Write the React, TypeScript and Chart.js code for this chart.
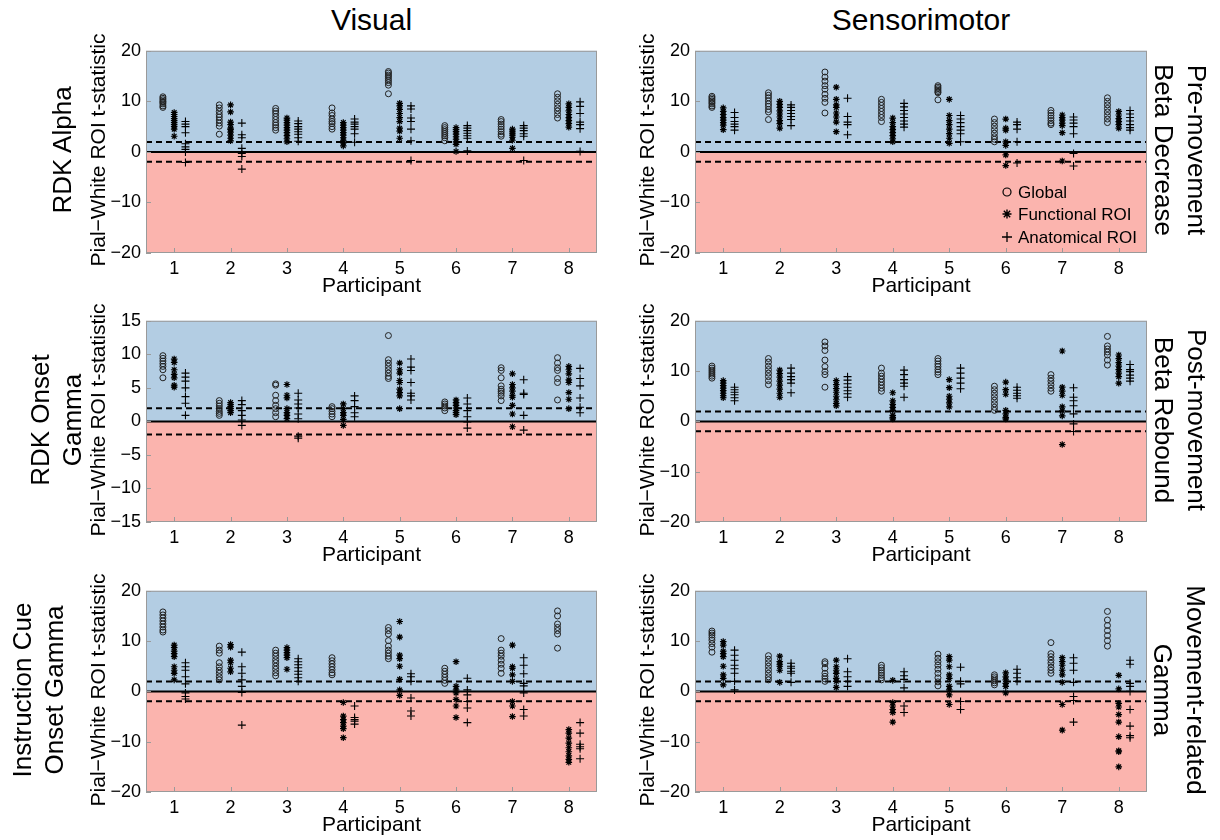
import React, { useEffect, useRef } from 'react';
import { Chart, registerables } from 'chart.js';

Chart.register(...registerables);
Chart.defaults.font.family = '"Liberation Sans", Arial, sans-serif';

const participants = [1, 2, 3, 4, 5, 6, 7, 8];
const columnTitles = ['Visual', 'Sensorimotor'];
const legendLabels = ['Global', 'Functional ROI', 'Anatomical ROI'];
const yAxisTitle = 'Pial\u2212White ROI t-statistic';
const xAxisTitle = 'Participant';

// ---- RDK Alpha (Visual) ----
const rdkAlphaGlobal = [
  [10.9, 10.6, 10.3, 10.0, 9.8, 9.5, 9.1, 8.8],
  [9.3, 8.7, 8.0, 7.4, 6.9, 6.3, 5.7, 5.1, 3.5],
  [8.6, 8.1, 7.6, 7.0, 6.4, 5.8, 5.3, 4.8, 4.3],
  [8.7, 7.7, 7.2, 6.5, 6.0, 5.6, 5.0, 4.5],
  [15.9, 15.6, 15.2, 14.9, 14.5, 14.1, 13.7, 13.2, 11.5],
  [5.2, 4.8, 4.4, 4.0, 3.6, 3.2, 2.8, 2.2],
  [6.4, 6.0, 5.5, 5.0, 4.5, 4.0, 3.5, 3.1],
  [11.5, 10.8, 10.1, 9.4, 8.7, 8.1, 7.4, 6.7],
];
const rdkAlphaFunctional = [
  [7.8, 7.4, 7.0, 6.6, 6.2, 5.8, 5.4, 5.0, 4.5, 3.1],
  [9.3, 7.9, 5.9, 5.4, 4.7, 4.4, 3.9, 3.3, 2.7, 2.2],
  [6.7, 6.3, 5.8, 5.3, 4.8, 4.3, 3.8, 3.2, 2.6, 2.0],
  [5.8, 5.3, 4.8, 4.3, 3.8, 3.3, 2.8, 2.3, 1.8, 1.2],
  [9.6, 9.1, 8.4, 7.6, 6.8, 6.0, 4.7, 4.1, 2.7],
  [4.8, 4.4, 4.0, 3.5, 3.0, 2.5, 2.0, 1.5, 0.1],
  [4.5, 4.1, 3.7, 3.3, 2.9, 2.3, 0.7],
  [9.5, 8.8, 8.1, 7.4, 6.8, 6.2, 5.6, 4.9],
];
const rdkAlphaAnatomical = [
  [6.0, 5.5, 5.0, 3.8, 1.6, 1.0, 0.5, 0.0, -2.1],
  [5.7, 3.4, 2.8, 0.7, -0.3, -0.9, -3.4],
  [6.1, 5.6, 5.0, 4.5, 4.0, 3.5, 2.8, 2.1],
  [6.5, 5.9, 5.5, 5.0, 4.5, 3.6, 1.9],
  [9.1, 8.5, 6.7, 6.0, 4.5, 2.2, -1.7],
  [5.2, 4.7, 4.2, 3.7, 3.2, 2.7, 0.2],
  [5.2, 4.7, 4.2, 3.6, 3.1, -1.7],
  [9.9, 9.0, 7.6, 5.9, 5.4, 4.6, 0.1],
];

// ---- Pre-movement Beta Decrease (Sensorimotor) ----
const betaDecreaseGlobal = [
  [11.0, 10.7, 10.4, 10.1, 9.8, 9.5, 9.1, 8.8],
  [11.7, 11.2, 10.7, 10.1, 9.5, 9.0, 8.4, 7.9, 6.4],
  [15.8, 14.8, 14.0, 13.1, 12.4, 11.4, 10.6, 9.8, 7.7],
  [10.4, 9.8, 9.2, 8.6, 8.0, 7.4, 6.8, 6.0],
  [13.1, 12.8, 12.5, 12.2, 11.9, 11.7, 10.3],
  [6.5, 5.8, 5.1, 4.4, 3.7, 3.0, 2.5, 2.0],
  [8.2, 7.7, 7.2, 6.7, 6.2, 5.7, 5.4],
  [10.7, 10.0, 9.3, 8.6, 7.9, 7.2, 6.5, 5.8],
];
const betaDecreaseFunctional = [
  [8.7, 8.0, 7.4, 6.8, 6.3, 5.8, 5.3, 4.4],
  [10.0, 9.4, 8.8, 8.1, 7.5, 6.9, 6.2, 5.6, 4.7],
  [12.8, 10.4, 9.3, 8.8, 7.7, 6.9, 5.9, 4.0],
  [6.7, 5.8, 5.0, 4.4, 3.8, 3.2, 2.6, 2.0],
  [10.4, 7.2, 6.2, 5.4, 4.5, 3.6, 2.7, 1.7],
  [6.5, 4.7, 4.3, 2.0, 1.3, -0.6, -2.7],
  [7.3, 6.8, 6.3, 5.7, 5.2, 3.8, -1.8],
  [8.0, 7.3, 6.6, 6.0, 5.4, 4.7],
];
const betaDecreaseAnatomical = [
  [7.8, 6.8, 6.0, 5.5, 5.0, 4.3],
  [9.3, 8.8, 8.2, 7.6, 7.0, 6.4, 5.2],
  [10.6, 7.0, 5.9, 5.4, 3.4],
  [9.6, 8.9, 8.2, 7.5, 6.8, 6.1, 5.5, 4.9],
  [7.2, 6.5, 5.8, 5.0, 4.3, 3.6, 2.0],
  [5.9, 5.4, 4.5, 2.0, -2.2],
  [6.9, 6.3, 5.7, 5.0, 3.6, -0.3, -2.8],
  [8.2, 7.5, 6.8, 6.1, 5.4, 4.8, 4.3],
];

// ---- RDK Onset Gamma (Visual) ----
const onsetGammaGlobal = [
  [9.8, 9.4, 9.0, 8.6, 8.2, 7.7, 6.5],
  [3.1, 2.7, 2.3, 1.9, 1.5, 1.2, 0.9],
  [5.6, 5.4, 3.9, 3.1, 2.4, 1.9, 1.3, 0.7],
  [2.2, 1.9, 1.5, 1.1, 0.7],
  [12.8, 9.2, 8.7, 8.2, 7.7, 7.2, 6.7, 6.4],
  [2.9, 2.6, 2.3, 2.0, 1.6],
  [8.0, 7.6, 6.5, 5.3, 4.8, 4.5, 4.2, 3.8, 3.1],
  [9.5, 8.7, 8.0, 7.6, 6.4, 5.8, 3.2],
];
const onsetGammaFunctional = [
  [9.3, 8.8, 7.7, 7.0, 6.5, 5.4, 5.1],
  [2.8, 2.5, 2.2, 1.9, 1.6, 1.3],
  [5.5, 3.9, 3.5, 1.9, 1.3, 0.9, 0.4],
  [2.6, 1.9, 1.3, 0.9, 0.3, -0.6],
  [8.7, 7.7, 7.2, 6.1, 5.8, 4.8, 4.3, 3.8, 1.9],
  [3.2, 2.8, 2.4, 2.0, 1.6, 1.3, 1.0],
  [7.1, 5.5, 5.0, 4.5, 3.9, 3.6, 2.4, 1.1, -0.8],
  [8.2, 7.7, 7.1, 6.2, 5.8, 4.3, 3.3, 1.9],
];
const onsetGammaAnatomical = [
  [7.2, 6.6, 6.0, 5.0, 3.7, 2.7, 0.9],
  [3.1, 2.5, 1.6, 0.9, 0.2, -0.6],
  [4.2, 3.2, 2.6, 2.0, 1.1, 0.4, -2.2, -2.5],
  [3.8, 3.1, 2.2, 1.3, 0.7],
  [9.3, 8.1, 7.6, 5.8, 4.2, 3.8, 3.2],
  [3.5, 2.6, 1.6, 0.7, -0.1, -1.0],
  [6.2, 4.2, 4.0, 0.9, -1.3],
  [7.9, 6.4, 5.3, 3.5, 2.1, 1.3],
];

// ---- Post-movement Beta Rebound (Sensorimotor) ----
const betaReboundGlobal = [
  [11.0, 10.6, 10.2, 9.8, 9.4, 9.0, 8.6],
  [12.5, 11.8, 11.0, 10.3, 9.6, 8.9, 8.1, 7.3],
  [15.8, 15.0, 14.1, 12.2, 10.9, 9.9, 9.3, 6.8],
  [10.6, 9.6, 9.0, 8.4, 7.8, 7.2, 6.6, 6.0],
  [12.5, 12.0, 11.4, 10.9, 10.3, 9.8, 9.3],
  [7.0, 6.3, 5.6, 4.9, 4.2, 3.5, 2.8, 2.2],
  [9.3, 8.6, 8.0, 7.3, 6.6, 6.0],
  [16.9, 15.0, 14.4, 13.8, 13.2, 12.2, 11.2],
];
const betaReboundFunctional = [
  [8.1, 7.6, 7.1, 6.6, 6.1, 5.6, 5.1, 4.7],
  [10.2, 9.5, 8.8, 8.0, 7.2, 6.4, 5.6, 4.8],
  [8.1, 7.3, 6.5, 5.8, 5.0, 4.3, 3.6, 3.1],
  [5.7, 4.1, 3.4, 2.8, 2.2, 1.2, 0.8, 0.5],
  [8.3, 6.7, 5.0, 4.4, 3.7, 2.9],
  [7.8, 6.3, 5.4, 2.2, 1.5, 0.8, 0.5],
  [14.0, 6.8, 6.0, 5.2, 2.9, 2.1, 1.1, -4.6],
  [13.2, 12.5, 11.7, 11.0, 10.3, 9.6, 8.9, 7.6],
];
const betaReboundAnatomical = [
  [6.8, 6.3, 5.8, 5.3, 4.7, 4.1],
  [10.6, 9.6, 8.9, 8.3, 7.6, 5.7],
  [8.9, 8.2, 7.5, 6.8, 6.1, 5.5, 4.8],
  [10.2, 9.3, 8.3, 7.6, 7.0, 4.8],
  [10.6, 9.6, 8.6, 7.6, 6.5],
  [6.8, 6.2, 5.6, 5.1, 4.6],
  [6.7, 4.8, 4.1, 3.1, 1.5, -0.5, -2.0],
  [11.3, 10.3, 9.9, 9.2, 8.6, 8.0],
];

// ---- Instruction Cue Onset Gamma (Visual) ----
const cueGammaGlobal = [
  [15.8, 15.2, 14.6, 14.0, 13.4, 12.8, 12.2, 11.8],
  [9.0, 8.2, 7.6, 5.7, 4.9, 4.2, 3.6, 2.9, 2.3],
  [8.2, 7.6, 7.0, 6.3, 5.7, 5.0, 4.4, 3.7, 3.1],
  [6.7, 6.1, 5.5, 4.9, 4.3, 3.7, 3.3],
  [12.7, 12.1, 11.4, 10.1, 9.0, 8.2, 7.6, 7.0, 6.5],
  [4.6, 4.0, 3.4, 2.8, 2.2, 1.6],
  [10.5, 8.2, 7.6, 7.0, 6.2, 5.4, 4.6, 3.6],
  [16.0, 15.0, 13.4, 12.7, 12.1, 11.4, 8.6],
];
const cueGammaFunctional = [
  [9.2, 8.7, 8.0, 7.5, 6.9, 4.9, 4.2, 3.6, 2.3],
  [9.3, 8.8, 6.2, 5.7, 4.6, 3.9],
  [8.7, 8.2, 7.7, 7.2, 6.7, 4.4],
  [-2.2, -4.9, -5.6, -6.2, -6.9, -7.4, -9.2],
  [13.9, 10.8, 7.2, 6.5, 5.0, 2.4, 0.3, -0.8],
  [5.9, 1.0, 0.3, -0.3, -1.6, -2.9, -5.2],
  [9.2, 4.9, 4.6, 3.3, 2.0, -2.0, -2.9, -5.0],
  [-7.6, -8.3, -9.3, -10.3, -11.2, -12.0, -12.8, -13.5, -14.1],
];
const cueGammaAnatomical = [
  [5.7, 4.9, 4.2, 2.9, 1.5, -0.3, -1.0, -1.5],
  [7.8, 4.9, 3.6, 2.3, 1.0, -0.2, -6.7],
  [6.5, 5.9, 5.3, 4.7, 4.0, 3.4, 2.7, 2.0],
  [-2.9, -5.2, -5.6, -5.9, -6.5],
  [3.5, 2.9, 2.0, -1.3, -3.9, -4.9],
  [2.6, 0.3, -0.7, -2.0, -3.3, -6.2],
  [6.7, 5.2, 3.5, 1.6, 1.1, -0.3, -3.6, -4.9],
  [-6.2, -8.3, -10.5, -11.0, -11.4, -13.4],
];

// ---- Movement-related Gamma (Sensorimotor) ----
const moveGammaGlobal = [
  [12.0, 11.6, 11.2, 10.7, 10.2, 9.5, 8.8, 7.8],
  [7.1, 6.4, 5.7, 5.0, 4.3, 3.6, 2.9, 2.3],
  [5.9, 5.5, 4.6, 3.6, 3.0, 2.5, 2.0],
  [5.2, 4.7, 4.2, 3.7, 3.2, 2.7, 2.3],
  [7.4, 6.6, 5.9, 5.2, 4.4, 3.6, 2.7, 1.9, 1.1],
  [3.3, 2.9, 2.5, 2.1, 1.7, 1.3],
  [9.7, 7.5, 6.9, 6.2, 5.6, 4.8, 4.2, 3.6],
  [15.9, 14.2, 13.1, 12.1, 11.1, 10.1, 9.0],
];
const moveGammaFunctional = [
  [9.9, 9.2, 8.0, 7.5, 6.9, 5.0, 3.3, 2.6, 1.3],
  [7.0, 5.9, 5.4, 5.0, 4.2, 1.8],
  [6.2, 4.9, 4.2, 3.6, 2.6, 2.0, 0.8],
  [2.2, -2.2, -2.9, -3.6, -4.2, -6.1],
  [6.9, 6.2, 4.9, 3.3, 2.6, 1.0, 0.3, -0.7, -2.6],
  [3.7, 2.9, 2.3, 1.6, 1.0, -0.3],
  [6.7, 5.9, 5.2, 4.2, 3.3, 1.8, -2.6, -7.7],
  [3.2, 0.5, -2.4, -3.1, -4.6, -6.1, -9.0, -11.8, -12.0, -15.0],
];
const moveGammaAnatomical = [
  [8.2, 7.2, 6.2, 5.2, 4.5, 3.6, 2.0, 0.3],
  [5.6, 5.0, 4.6, 4.0, 3.6, 1.8],
  [6.5, 3.9, 2.9, 2.0, 1.0],
  [3.9, 3.1, 2.4, 0.7, -2.9, -4.2],
  [4.8, 2.0, 1.5, -2.0, -3.6],
  [4.4, 3.6, 2.7, 2.0],
  [6.7, 5.6, 4.2, 1.8, -1.0, -1.8, -6.1],
  [6.2, 5.4, 1.6, 1.0, 0.0, -3.6, -6.9, -8.8, -9.2],
];

const SIG = 1.96;
const BLUE = '#B3CDE3';
const RED = '#FBB4AE';

const Y_AXIS_W = 45;
const PAD_TOP = 12;
const PAD_RIGHT = 6;
const X_AXIS_H = 32;

type PanelCfg = {
  g: number[][];
  f: number[][];
  a: number[][];
  yMin: number;
  yMax: number;
  yStep: number;
  left: number;
  top: number;
  right: number;
  bottom: number;
  legend?: boolean;
};

const toPoints = (groups: number[][], offset: number) =>
  groups.flatMap((vals, i) => vals.map((v) => ({ x: participants[i] + offset, y: v })));

const hLine = (y: number) => [
  { x: 0.5, y },
  { x: 8.5, y },
];

const bgPlugin = {
  id: 'bgSplit',
  beforeDatasetsDraw(chart: any) {
    const { ctx, chartArea: ca, scales } = chart;
    const y0 = scales.y.getPixelForValue(0);
    ctx.save();
    ctx.fillStyle = BLUE;
    ctx.fillRect(ca.left, ca.top, ca.right - ca.left, y0 - ca.top);
    ctx.fillStyle = RED;
    ctx.fillRect(ca.left, y0, ca.right - ca.left, ca.bottom - y0);
    ctx.restore();
  },
  afterDraw(chart: any) {
    const { ctx, chartArea: ca, scales } = chart;
    ctx.save();
    ctx.strokeStyle = '#9a9a9a';
    ctx.lineWidth = 1;
    ctx.strokeRect(ca.left + 0.5, ca.top + 0.5, ca.right - ca.left - 1, ca.bottom - ca.top - 1);
    ctx.beginPath();
    scales.x.ticks.forEach((t: any) => {
      const px = Math.round(scales.x.getPixelForValue(t.value)) + 0.5;
      ctx.moveTo(px, ca.bottom);
      ctx.lineTo(px, ca.bottom - 5);
    });
    scales.y.ticks.forEach((t: any) => {
      const py = Math.round(scales.y.getPixelForValue(t.value)) + 0.5;
      ctx.moveTo(ca.left, py);
      ctx.lineTo(ca.left + 5, py);
    });
    ctx.stroke();
    ctx.restore();
  },
};

function drawMarker(ctx: CanvasRenderingContext2D, style: string, r: number, x: number, y: number) {
  ctx.beginPath();
  if (style === 'circle') {
    ctx.arc(x, y, r, 0, Math.PI * 2);
  } else if (style === 'cross') {
    ctx.moveTo(x - r, y);
    ctx.lineTo(x + r, y);
    ctx.moveTo(x, y - r);
    ctx.lineTo(x, y + r);
  } else {
    for (let k = 0; k < 4; k++) {
      const ang = (k * Math.PI) / 4;
      ctx.moveTo(x - r * Math.cos(ang), y - r * Math.sin(ang));
      ctx.lineTo(x + r * Math.cos(ang), y + r * Math.sin(ang));
    }
  }
  ctx.stroke();
}

const legendPlugin = {
  id: 'insideLegend',
  afterDraw(chart: any) {
    const opts = chart.options.plugins.insideLegend;
    if (!opts || !opts.show) return;
    const { ctx, chartArea: ca } = chart;
    const styles = ['circle', 'star', 'cross'];
    const radii = [4, 4.5, 5];
    const widths = [1.2, 1.4, 1.3];
    const rows = [-61, -39, -16];
    ctx.save();
    ctx.font = '17px "Liberation Sans", Arial, sans-serif';
    ctx.textBaseline = 'middle';
    legendLabels.forEach((lab, i) => {
      const mx = ca.right - 140;
      const my = ca.bottom + rows[i];
      ctx.strokeStyle = '#000';
      ctx.fillStyle = '#000';
      ctx.lineWidth = widths[i];
      drawMarker(ctx, styles[i], radii[i], mx, my);
      ctx.fillText(lab, ca.right - 129, my + 1);
    });
    ctx.restore();
  },
};

function Panel({ cfg }: { cfg: PanelCfg }) {
  const ref = useRef<HTMLCanvasElement>(null);
  const cLeft = cfg.left - Y_AXIS_W;
  const cTop = cfg.top - PAD_TOP;
  const width = cfg.right - cLeft + PAD_RIGHT;
  const height = cfg.bottom - cTop + X_AXIS_H;

  useEffect(() => {
    if (!ref.current) return;
    const lineDs = (y: number, dash: number[]) => ({
      type: 'line' as const,
      data: hLine(y),
      borderColor: '#000',
      borderWidth: 2,
      borderDash: dash,
      pointRadius: 0,
      fill: false,
    });
    const chart = new Chart(ref.current, {
      type: 'scatter',
      data: {
        datasets: [
          {
            label: legendLabels[0],
            data: toPoints(cfg.g, -0.2),
            pointStyle: 'circle',
            pointRadius: 3,
            borderColor: '#222',
            backgroundColor: 'rgba(0,0,0,0)',
            borderWidth: 1,
          },
          {
            label: legendLabels[1],
            data: toPoints(cfg.f, 0),
            pointStyle: 'star',
            pointRadius: 3.3,
            borderColor: '#000',
            backgroundColor: '#000',
            borderWidth: 1.2,
          },
          {
            label: legendLabels[2],
            data: toPoints(cfg.a, 0.2),
            pointStyle: 'cross',
            pointRadius: 4,
            borderColor: '#000',
            backgroundColor: '#000',
            borderWidth: 1.1,
          },
          lineDs(SIG, [6, 4]) as any,
          lineDs(-SIG, [6, 4]) as any,
          lineDs(0, []) as any,
        ],
      },
      options: {
        responsive: false,
        animation: false,
        events: [],
        layout: { padding: { top: PAD_TOP, right: PAD_RIGHT, left: 0, bottom: 0 } },
        plugins: {
          legend: { display: false },
          tooltip: { enabled: false },
          insideLegend: { show: !!cfg.legend },
        } as any,
        scales: {
          x: {
            type: 'linear',
            min: 0.5,
            max: 8.5,
            afterBuildTicks: (s: any) => {
              s.ticks = participants.map((v) => ({ value: v }));
            },
            afterFit: (s: any) => {
              s.height = X_AXIS_H;
            },
            ticks: {
              color: '#000',
              font: { size: 18 },
              padding: 5,
              maxRotation: 0,
              autoSkip: false,
              callback: (v: any) => String(v),
            },
            grid: { display: false, drawTicks: false },
            border: { display: false },
          },
          y: {
            type: 'linear',
            min: cfg.yMin,
            max: cfg.yMax,
            afterFit: (s: any) => {
              s.width = Y_AXIS_W;
            },
            ticks: {
              stepSize: cfg.yStep,
              color: '#000',
              font: { size: 18 },
              padding: 5,
              callback: (v: any) => (v < 0 ? '\u2212' + Math.abs(v) : String(v)),
            },
            grid: { display: false, drawTicks: false },
            border: { display: false },
          },
        },
      },
      plugins: [bgPlugin, legendPlugin],
    });
    return () => chart.destroy();
  }, []);

  return (
    <canvas
      ref={ref}
      width={width}
      height={height}
      style={{ position: 'absolute', left: cLeft, top: cTop, width, height }}
    />
  );
}

const LEFT_COL = { left: 146, right: 597 };
const RIGHT_COL = { left: 695, right: 1147 };
const ROWS = [
  { top: 47, bottom: 253 },
  { top: 317, bottom: 522 },
  { top: 587, bottom: 792 },
];

const panels: PanelCfg[] = [
  { g: rdkAlphaGlobal, f: rdkAlphaFunctional, a: rdkAlphaAnatomical, yMin: -20, yMax: 20, yStep: 10, ...LEFT_COL, ...ROWS[0] },
  { g: betaDecreaseGlobal, f: betaDecreaseFunctional, a: betaDecreaseAnatomical, yMin: -20, yMax: 20, yStep: 10, ...RIGHT_COL, ...ROWS[0], legend: true },
  { g: onsetGammaGlobal, f: onsetGammaFunctional, a: onsetGammaAnatomical, yMin: -15, yMax: 15, yStep: 5, ...LEFT_COL, ...ROWS[1] },
  { g: betaReboundGlobal, f: betaReboundFunctional, a: betaReboundAnatomical, yMin: -20, yMax: 20, yStep: 10, ...RIGHT_COL, ...ROWS[1] },
  { g: cueGammaGlobal, f: cueGammaFunctional, a: cueGammaAnatomical, yMin: -20, yMax: 20, yStep: 10, ...LEFT_COL, ...ROWS[2] },
  { g: moveGammaGlobal, f: moveGammaFunctional, a: moveGammaAnatomical, yMin: -20, yMax: 20, yStep: 10, ...RIGHT_COL, ...ROWS[2] },
];

const leftRowLabels = [['RDK Alpha'], ['RDK Onset', 'Gamma'], ['Instruction Cue', 'Onset Gamma']];
const leftRowX = [62, 56, 38];
const rightRowLabels = [['Pre-movement', 'Beta Decrease'], ['Post-movement', 'Beta Rebound'], ['Movement-related', 'Gamma']];
const rightRowX = [1180, 1180, 1179];

const FONT = '"Liberation Sans", Arial, sans-serif';

function Label({ x, y, size, rot, lines, lh }: { x: number; y: number; size: number; rot: number; lines: string[]; lh?: number }) {
  return (
    <div
      style={{
        position: 'absolute',
        left: x,
        top: y,
        transform: `translate(-50%, -50%) rotate(${rot}deg)`,
        fontSize: size,
        lineHeight: `${lh ?? Math.round(size * 1.2)}px`,
        whiteSpace: 'nowrap',
        textAlign: 'center',
        color: '#000',
        fontFamily: FONT,
      }}
    >
      {lines.map((l, i) => (
        <div key={i}>{l}</div>
      ))}
    </div>
  );
}

export default function App() {
  return (
    <div style={{ position: 'absolute', left: 0, top: 0, width: 1220, height: 840, background: '#fff', overflow: 'hidden', fontFamily: FONT }}>
      <Label x={(LEFT_COL.left + LEFT_COL.right) / 2} y={20} size={30} rot={0} lines={[columnTitles[0]]} />
      <Label x={(RIGHT_COL.left + RIGHT_COL.right) / 2} y={20} size={30} rot={0} lines={[columnTitles[1]]} />
      {panels.map((p, i) => (
        <Panel key={i} cfg={p} />
      ))}
      {ROWS.map((r, i) => {
        const cy = (r.top + r.bottom) / 2;
        return (
          <React.Fragment key={i}>
            <Label x={97} y={cy} size={21} rot={-90} lines={[yAxisTitle]} />
            <Label x={646} y={cy} size={21} rot={-90} lines={[yAxisTitle]} />
            <Label x={(LEFT_COL.left + LEFT_COL.right) / 2} y={r.bottom + 31} size={21} rot={0} lines={[xAxisTitle]} />
            <Label x={(RIGHT_COL.left + RIGHT_COL.right) / 2} y={r.bottom + 31} size={21} rot={0} lines={[xAxisTitle]} />
            <Label x={leftRowX[i]} y={cy} size={26} rot={-90} lh={32} lines={leftRowLabels[i]} />
            <Label x={rightRowX[i]} y={cy} size={26} rot={90} lh={33} lines={rightRowLabels[i]} />
          </React.Fragment>
        );
      })}
    </div>
  );
}
